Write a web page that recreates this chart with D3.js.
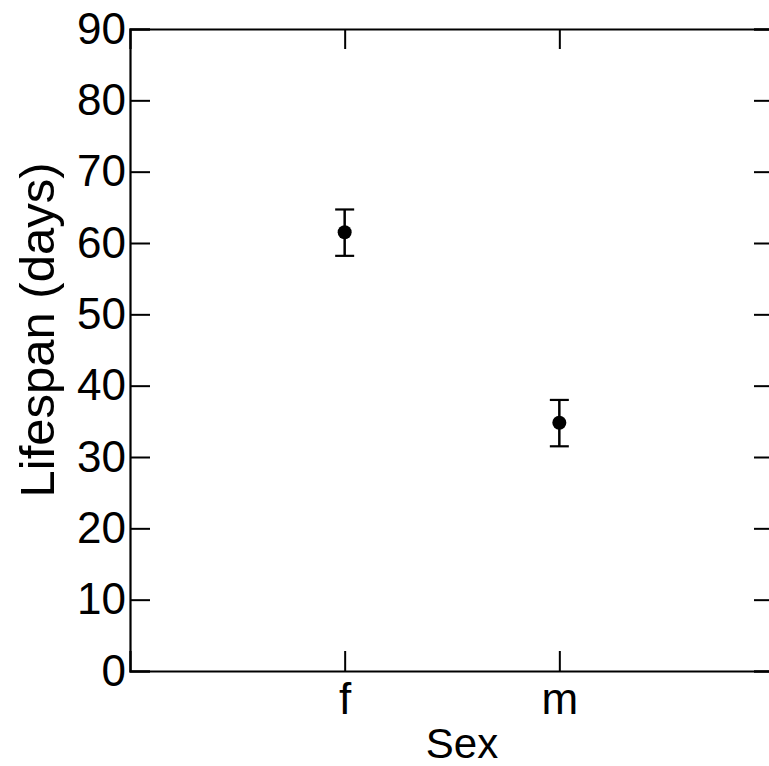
<!DOCTYPE html>
<html>
<head>
<meta charset="utf-8">
<script src="https://cdn.jsdelivr.net/npm/d3@7"></script>
<style>
body { margin: 0; background: #fff; }
text { font-family: "Liberation Sans", Arial, sans-serif; fill: #000; }
</style>
</head>
<body>
<div id="vis"></div>
<script>
var sexes = ['f', 'm'];
var means = [61.5, 34.8];
var upper = [64.7, 38.0];
var lower = [58.2, 31.5];
var yTicks = [0, 10, 20, 30, 40, 50, 60, 70, 80, 90];

var width = 769;
var height = 766;

var margin = {
    top: 29,
    left: 130,
    right: -5,
    bottom: 95
};

var svg = d3.select("#vis")
    .append("svg")
    .attr('width', width)
    .attr('height', height);

var w = width - margin.left - margin.right;
var h = height - margin.top - margin.bottom;

var g = svg.append("g")
    .attr("transform", "translate(" + margin.left + "," + margin.top + ")");

var xscale = d3.scaleLinear()
    .domain([0, sexes.length + 1])
    .range([0, w]);

var yscale = d3.scaleLinear()
    .domain([0, 90])
    .range([h, 0]);

var tickLen = 20;

// left axis with labels, ticks pointing inward
var yaxis = d3.axisLeft(yscale)
    .tickValues(yTicks)
    .tickSize(-tickLen)
    .tickPadding(4);
var ya = g.append('g').call(yaxis);

// right axis, no labels
var ya2 = g.append('g')
    .attr('transform', 'translate(' + w + ',0)')
    .call(d3.axisRight(yscale).tickValues(yTicks).tickSize(-tickLen).tickFormat(''));

// bottom axis
var xaxis = d3.axisBottom(xscale)
    .tickValues(d3.range(1, sexes.length + 1))
    .tickFormat(function (d) { return sexes[d - 1]; })
    .tickSize(-tickLen)
    .tickPadding(12);
var xa = g.append('g')
    .attr('transform', 'translate(0,' + h + ')')
    .call(xaxis);

// top axis
var xa2 = g.append('g')
    .call(d3.axisTop(xscale).tickValues(d3.range(1, sexes.length + 1)).tickSize(-tickLen).tickFormat(''));

[ya, ya2, xa, xa2].forEach(function (a) {
    a.select('.domain').attr('stroke', '#000').attr('stroke-width', 2.2);
    a.selectAll('.tick line').attr('stroke', '#000').attr('stroke-width', 2);
    a.selectAll('.tick text').style('font-size', '44px').attr('fill', '#000');
});

// error bars
var bars = g.selectAll('.err')
    .data(sexes)
    .enter()
    .append('g')
    .attr('class', 'err');

bars.append('line')
    .attr('x1', function (d, i) { return xscale(i + 1); })
    .attr('x2', function (d, i) { return xscale(i + 1); })
    .attr('y1', function (d, i) { return yscale(upper[i]); })
    .attr('y2', function (d, i) { return yscale(lower[i]); })
    .attr('stroke', '#000')
    .attr('stroke-width', 2.5);

bars.append('line')
    .attr('x1', function (d, i) { return xscale(i + 1) - 9.5; })
    .attr('x2', function (d, i) { return xscale(i + 1) + 9.5; })
    .attr('y1', function (d, i) { return yscale(upper[i]); })
    .attr('y2', function (d, i) { return yscale(upper[i]); })
    .attr('stroke', '#000')
    .attr('stroke-width', 2.2);

bars.append('line')
    .attr('x1', function (d, i) { return xscale(i + 1) - 9.5; })
    .attr('x2', function (d, i) { return xscale(i + 1) + 9.5; })
    .attr('y1', function (d, i) { return yscale(lower[i]); })
    .attr('y2', function (d, i) { return yscale(lower[i]); })
    .attr('stroke', '#000')
    .attr('stroke-width', 2.2);

bars.append('circle')
    .attr('cx', function (d, i) { return xscale(i + 1); })
    .attr('cy', function (d, i) { return yscale(means[i]); })
    .attr('r', 7)
    .attr('fill', '#000');

// axis titles
svg.append('text')
    .attr('x', 462)
    .attr('y', 758)
    .attr('text-anchor', 'middle')
    .style('font-size', '42px')
    .text('Sex');

svg.append('text')
    .attr('transform', 'translate(54,330) rotate(-90)')
    .attr('text-anchor', 'middle')
    .style('font-size', '49px')
    .text('Lifespan (days)');
</script>
</body>
</html>
